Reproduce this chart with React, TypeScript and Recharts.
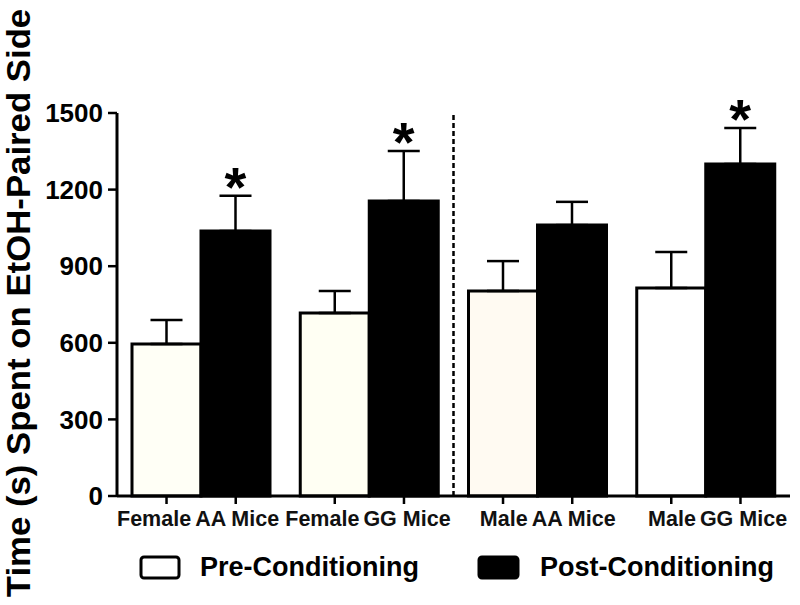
import React from 'react';
import { BarChart, Bar, XAxis, YAxis, ErrorBar, ReferenceLine, LabelList, Legend, Cell, Label } from 'recharts';

const sexes = ['Female', 'Female', 'Male', 'Male'];
const genotypes = ['AA', 'GG', 'AA', 'GG'];
const preValues = [595, 717, 803, 815];
const preErrors = [94, 86, 117, 141];
const postValues = [1038, 1155, 1061, 1300];
const postErrors = [138, 196, 91, 141];
const significant = [true, true, false, true];
const yTicks = [0, 300, 600, 900, 1200, 1500];
const seriesNames = ['Pre-Conditioning', 'Post-Conditioning'];
const yTitle = 'Time (s) Spent on EtOH-Paired Side';

const preFills = ['#fffff6', '#fffff3', '#fffaf2', '#ffffff'];
const FONT = '"Liberation Sans", Arial, sans-serif';

const data = sexes.map((sex, i) => ({
  name: `${sex} ${genotypes[i]} Mice`,
  sex,
  genotype: genotypes[i],
  pre: preValues[i],
  preErr: [0, preErrors[i]],
  post: postValues[i],
  postErr: [0, postErrors[i]],
  star: significant[i] ? '*' : '',
}));

const XTick = (props: any) => {
  const { x, y, payload } = props;
  const i = payload?.index ?? props.index ?? 0;
  const d = data[i];
  const half = 34.6;
  return (
    <g>
      <line x1={x - half} x2={x - half} y1={y} y2={y + 8} stroke="#000" strokeWidth={2.5} />
      <line x1={x + half} x2={x + half} y1={y} y2={y + 8} stroke="#000" strokeWidth={2.5} />
      <text x={x - 10} y={y + 30} textAnchor="end" fontSize={21.5} fontWeight="bold" fontFamily={FONT} fill="#111">
        {d.sex}
      </text>
      <text x={x - 6} y={y + 30} textAnchor="start" fontSize={21.5} fontWeight="bold" fontFamily={FONT} fill="#111">
        {`${d.genotype} Mice`}
      </text>
    </g>
  );
};

const StarLabel = (props: any) => {
  const { x, y, width, height, index } = props;
  if (index == null || !significant[index]) return null;
  const capY = y - (height * postErrors[index]) / postValues[index];
  return (
    <text x={x + width / 2} y={capY + 10} textAnchor="middle" fontSize={56} fontWeight="bold" fontFamily={FONT} fill="#000">
      *
    </text>
  );
};

const LegendContent = () => (
  <svg width={800} height={40}>
    <rect x={141} y={9} width={38} height={21} rx={3} fill="#fff" stroke="#000" strokeWidth={3} />
    <text x={200} y={28} fontSize={27} fontWeight="bold" fontFamily={FONT} fill="#000">{seriesNames[0]}</text>
    <rect x={479} y={9} width={39} height={21} rx={3} fill="#000" stroke="#000" strokeWidth={3} />
    <text x={540} y={28} fontSize={27} fontWeight="bold" fontFamily={FONT} fill="#000">{seriesNames[1]}</text>
  </svg>
);

export default function App() {
  return (
    <div style={{ position: 'absolute', left: 0, top: 0, background: '#fff' }}>
      <BarChart
        width={800}
        height={605}
        data={data}
        margin={{ top: 113, right: 10, bottom: 64, left: 0 }}
        barGap={0}
        barCategoryGap={15}
        style={{ fontFamily: FONT }}
      >
        <XAxis
          dataKey="name"
          height={45}
          axisLine={{ stroke: '#000', strokeWidth: 3 }}
          tickLine={false}
          tickSize={0}
          tickMargin={0}
          tick={<XTick />}
          interval={0}
        />
        <YAxis
          width={117}
          domain={[0, 1500]}
          ticks={yTicks}
          interval={0}
          axisLine={{ stroke: '#000', strokeWidth: 3 }}
          tickLine={{ stroke: '#000', strokeWidth: 2.5 }}
          tickSize={9}
          tickMargin={5}
          tick={{ fontSize: 26, fontWeight: 'bold', fill: '#000', fontFamily: FONT }}
        >
          <Label
            content={() => (
              <text
                x={0}
                y={0}
                transform="translate(30, 303) rotate(-90) scale(1.07, 1)"
                textAnchor="middle"
                fontSize={32.5}
                fontWeight="bold"
                fontFamily={FONT}
                fill="#000"
              >
                {yTitle}
              </text>
            )}
          />
        </YAxis>
        <ReferenceLine x={data[2].name} position="start" stroke="#000" strokeWidth={2.5} strokeDasharray="5 3" />
        <Bar dataKey="pre" name={seriesNames[0]} stroke="#000" strokeWidth={3} isAnimationActive={false}>
          {data.map((d, i) => (
            <Cell key={i} fill={preFills[i]} />
          ))}
          <ErrorBar dataKey="preErr" width={16} stroke="#000" strokeWidth={2.5} direction="y" />
        </Bar>
        <Bar dataKey="post" name={seriesNames[1]} fill="#000" stroke="#000" strokeWidth={3} isAnimationActive={false}>
          <ErrorBar dataKey="postErr" width={16} stroke="#000" strokeWidth={2.5} direction="y" />
          <LabelList dataKey="star" content={<StarLabel />} />
        </Bar>
        <Legend
          layout="horizontal"
          verticalAlign="middle"
          align="center"
          wrapperStyle={{ top: 548, left: 0, width: 800, height: 40 }}
          content={<LegendContent />}
        />
      </BarChart>
    </div>
  );
}
